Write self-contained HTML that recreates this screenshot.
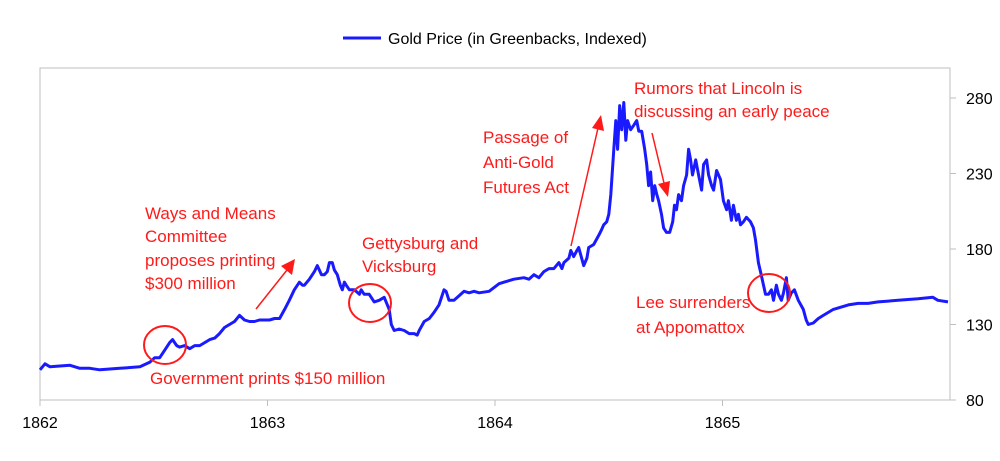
<!DOCTYPE html>
<html><head><meta charset="utf-8">
<style>
body{margin:0;background:#fff;}
svg{display:block;font-family:"Liberation Sans",sans-serif;}
</style></head>
<body>
<svg id="chart" width="1000" height="461" viewBox="0 0 1000 461">
  <g>
    <line x1="343" y1="38" x2="381" y2="38" stroke="#1a1aff" stroke-width="3"/>
    <text x="388" y="44" font-size="16" fill="#000">Gold Price (in Greenbacks, Indexed)</text>
  </g>
  <rect x="40" y="68" width="910" height="332" fill="none" stroke="#bfbfbf" stroke-width="1"/>
  <g id="yaxis"></g>
  <g id="xaxis"></g>
  <path id="series" fill="none" stroke="#1a1aff" stroke-width="3" stroke-linejoin="round"/>
  <g fill="#ff1a1a" font-size="17">
    <text><tspan x="145" y="219">Ways and Means</tspan><tspan x="145" y="242">Committee</tspan><tspan x="145" y="266">proposes printing</tspan><tspan x="145" y="289">$300 million</tspan></text>
    <text><tspan x="362" y="249">Gettysburg and</tspan><tspan x="362" y="272">Vicksburg</tspan></text>
    <text x="150" y="384">Government prints $150 million</text>
    <text><tspan x="483" y="143">Passage of</tspan><tspan x="483" y="168">Anti-Gold</tspan><tspan x="483" y="193">Futures Act</tspan></text>
    <text><tspan x="634" y="94">Rumors that Lincoln is</tspan><tspan x="634" y="117">discussing an early peace</tspan></text>
    <text><tspan x="636" y="308">Lee surrenders</tspan><tspan x="636" y="333">at Appomattox</tspan></text>
  </g>
  <g fill="none" stroke="#ff1a1a" stroke-width="2">
    <ellipse cx="165" cy="345" rx="21" ry="19"/>
    <ellipse cx="370" cy="303" rx="21" ry="19"/>
    <ellipse cx="769" cy="293" rx="21" ry="19"/>
  </g>
  <g stroke="#ff1a1a" stroke-width="1.5" fill="#ff1a1a">
    <line x1="256" y1="309" x2="287" y2="270"/>
    <polygon points="295,259 292,275 281,266" stroke="none"/>
    <line x1="571" y1="246" x2="598" y2="128"/>
    <polygon points="601,115 604,131 592,128" stroke="none"/>
    <line x1="652" y1="133" x2="664" y2="183"/>
    <polygon points="668,197 658,184 670,181" stroke="none"/>
  </g>
</svg>
<script>
const yTicks = [80, 130, 180, 230, 280];
const xTicks = [1862, 1863, 1864, 1865];
const dates = [
1862.000,1862.022,1862.044,1862.132,1862.175,1862.219,1862.263,1862.351,1862.439,1862.482,
1862.504,1862.526,1862.548,1862.570,1862.583,1862.601,1862.614,1862.636,1862.658,1862.680,
1862.702,1862.724,1862.746,1862.768,1862.789,1862.811,1862.833,1862.855,1862.877,1862.899,
1862.921,1862.943,1862.965,1862.987,1863.009,1863.031,1863.053,1863.075,1863.096,1863.118,
1863.140,1863.154,1863.162,1863.184,1863.206,1863.219,1863.228,1863.237,1863.250,1863.263,
1863.272,1863.285,1863.294,1863.307,1863.320,1863.329,1863.338,1863.346,1863.360,1863.382,
1863.404,1863.412,1863.425,1863.447,1863.469,1863.491,1863.513,1863.535,1863.544,1863.557,
1863.579,1863.601,1863.623,1863.645,1863.658,1863.667,1863.689,1863.711,1863.732,1863.754,
1863.776,1863.785,1863.798,1863.820,1863.842,1863.864,1863.886,1863.908,1863.930,1863.974,
1864.018,1864.039,1864.083,1864.127,1864.149,1864.171,1864.193,1864.215,1864.237,1864.259,
1864.281,1864.294,1864.303,1864.325,1864.333,1864.346,1864.360,1864.368,1864.390,1864.404,
1864.412,1864.434,1864.456,1864.469,1864.478,1864.491,1864.500,1864.509,1864.522,1864.531,
1864.539,1864.548,1864.557,1864.566,1864.575,1864.583,1864.596,1864.610,1864.623,1864.632,
1864.645,1864.658,1864.667,1864.675,1864.684,1864.693,1864.702,1864.711,1864.719,1864.732,
1864.741,1864.754,1864.768,1864.781,1864.789,1864.798,1864.807,1864.820,1864.829,1864.842,
1864.851,1864.860,1864.868,1864.882,1864.895,1864.908,1864.917,1864.930,1864.939,1864.952,
1864.961,1864.974,1864.991,1865.004,1865.018,1865.026,1865.039,1865.048,1865.061,1865.070,
1865.079,1865.092,1865.105,1865.123,1865.136,1865.145,1865.158,1865.167,1865.180,1865.189,
1865.202,1865.215,1865.224,1865.237,1865.246,1865.259,1865.268,1865.281,1865.289,1865.303,
1865.316,1865.333,1865.355,1865.368,1865.377,1865.399,1865.421,1865.443,1865.465,1865.487,
1865.509,1865.553,1865.596,1865.640,1865.684,1865.772,1865.860,1865.925,1865.947,1865.991];
const prices = [
100,104,102,103,101,101,100,101,102,105,
108,108,113,118,120,116,115,116,114,116,
116,118,120,121,124,128,130,132,136,133,
132,132,133,133,133,134,134,140,146,153,
158,156,156,160,165,169,166,163,163,165,
171,171,166,163,156,153,158,156,153,153,
150,153,150,150,145,146,148,140,130,126,
127,126,124,124,123,126,132,134,138,143,
153,152,146,146,149,152,151,152,151,152,
157,158,160,161,160,163,161,165,167,167,
171,167,171,174,179,175,179,181,169,174,
181,183,189,193,196,198,203,216,246,265,
246,275,259,277,252,265,259,262,265,258,
258,246,236,222,231,212,222,216,212,203,
194,191,191,198,209,206,216,212,222,229,
246,239,229,239,229,219,236,239,229,222,
219,232,226,212,206,212,199,209,199,203,
196,198,201,198,194,186,171,165,156,150,
150,153,146,156,150,146,151,161,146,151,
153,146,140,133,130,131,134,136,138,140,
141,143,144,144,145,146,147,148,146,145];

const X0=40, X1=950, Y0=400, Y1=98;
const xScale = t => X0 + (t-1862)/(1866-1862)*(X1-X0);
const yScale = v => Y0 - (v-80)/(280-80)*(Y0-Y1);
const NS="http://www.w3.org/2000/svg";
const yaxis=document.getElementById('yaxis');
const xaxis=document.getElementById('xaxis');
yTicks.forEach(v=>{
  const y=yScale(v);
  const tk=document.createElementNS(NS,'line');
  tk.setAttribute('x1',X1);tk.setAttribute('x2',X1+6);tk.setAttribute('y1',y);tk.setAttribute('y2',y);
  tk.setAttribute('stroke','#bfbfbf');
  
  
  yaxis.appendChild(tk);
  const t=document.createElementNS(NS,'text');
  t.setAttribute('x',966);t.setAttribute('y',y+6);t.setAttribute('font-size','16');t.setAttribute('fill','#000');
  t.textContent=v;
  
  
  yaxis.appendChild(t);
});
xTicks.forEach(v=>{
  const x=xScale(v);
  const tk=document.createElementNS(NS,'line');
  tk.setAttribute('x1',x);tk.setAttribute('x2',x);tk.setAttribute('y1',Y0);tk.setAttribute('y2',Y0+6);
  tk.setAttribute('stroke','#bfbfbf');
  
  
  xaxis.appendChild(tk);
  const t=document.createElementNS(NS,'text');
  t.setAttribute('x',x);t.setAttribute('y',428);t.setAttribute('font-size','16');t.setAttribute('fill','#000');
  t.setAttribute('text-anchor','middle');
  t.textContent=v;
  
  
  xaxis.appendChild(t);
});
let d='';
const n=Math.min(dates.length,prices.length);
for(let i=0;i<n;i++){d+=(i?'L':'M')+xScale(dates[i]).toFixed(1)+','+yScale(prices[i]).toFixed(1);}
document.getElementById('series').setAttribute('d',d);
</script>
</body></html>
